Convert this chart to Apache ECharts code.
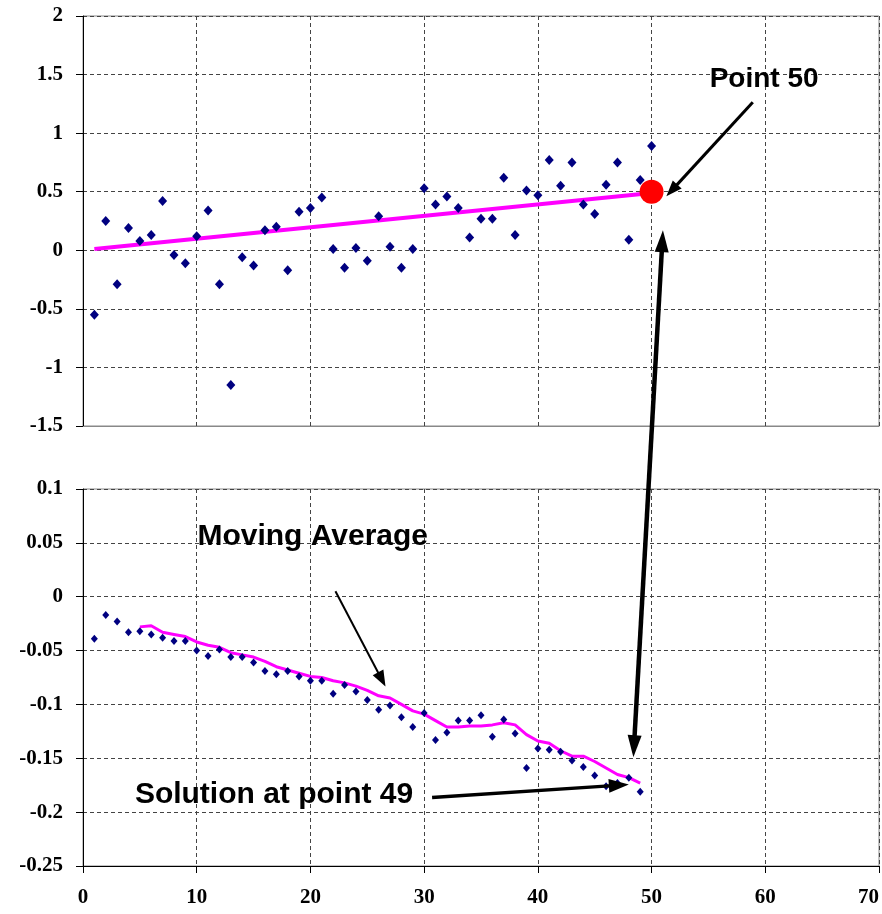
<!DOCTYPE html>
<html>
<head>
<meta charset="utf-8">
<script src="https://cdn.jsdelivr.net/npm/echarts@6/dist/echarts.min.js"></script>
<style>
  html, body { margin: 0; padding: 0; background: #fff; }
  #chart { width: 882px; height: 914px; }
</style>
</head>
<body>
<div id="chart"></div>
<script>
// x positions of the sample points
const pointIdx = [1,2,3,4,5,6,7,8,9,10,11,12,13,14,15,16,17,18,19,20,21,22,23,24,25,
  26,27,28,29,30,31,32,33,34,35,36,37,38,39,40,41,42,43,44,45,46,47,48,49,50];

// upper chart: raw samples
const rawValues = [
  -0.55, 0.25, -0.29, 0.19, 0.08, 0.13, 0.42, -0.04, -0.11, 0.12,
  0.34, -0.29, -1.15, -0.06, -0.13, 0.17, 0.20, -0.17, 0.33, 0.36,
  0.45, 0.01, -0.15, 0.02, -0.09, 0.29, 0.03, -0.15, 0.01, 0.53,
  0.39, 0.46, 0.36, 0.11, 0.27, 0.27, 0.62, 0.13, 0.51, 0.47,
  0.77, 0.55, 0.75, 0.39, 0.31, 0.56, 0.75, 0.09, 0.60, 0.89
];
// upper chart: trend line end points and the highlighted point
const trendX = [1, 50];
const trendY = [0.01, 0.49];
const point50 = [50, 0.5];

// lower chart: solutions (points 1..49)
const solValues = [
  -0.039, -0.017, -0.023, -0.033, -0.032, -0.035, -0.038, -0.041, -0.041, -0.050,
  -0.055, -0.049, -0.056, -0.056, -0.061, -0.069, -0.072, -0.069, -0.074, -0.078,
  -0.078, -0.090, -0.082, -0.088, -0.096, -0.105, -0.101, -0.112, -0.121, -0.108,
  -0.133, -0.126, -0.115, -0.115, -0.110, -0.130, -0.114, -0.127, -0.159, -0.141,
  -0.142, -0.144, -0.152, -0.158, -0.166, -0.176, -0.173, -0.168, -0.181
];
// lower chart: moving average (points 5..49)
const maStart = 5;
const maValues = [
  -0.028, -0.027, -0.033, -0.035, -0.037, -0.042, -0.045, -0.047, -0.052, -0.054,
  -0.056, -0.060, -0.065, -0.068, -0.071, -0.074, -0.075, -0.078, -0.080, -0.083,
  -0.087, -0.092, -0.094, -0.100, -0.106, -0.109, -0.115, -0.121, -0.121, -0.120,
  -0.120, -0.119, -0.117, -0.119, -0.128, -0.134, -0.136, -0.143, -0.148, -0.148,
  -0.153, -0.159, -0.165, -0.168, -0.173
];

const xTicks = { min: 0, max: 70, interval: 10 };
const topTicks = { min: -1.5, max: 2, interval: 0.5 };
const bottomTicks = { min: -0.25, max: 0.1, interval: 0.05 };

const chart = echarts.init(document.getElementById("chart"), null, { renderer: "canvas" });

const labelFont = {
  fontFamily: "Liberation Serif",
  fontWeight: "bold",
  fontSize: 21,
  color: "#000"
};
const gridDash = { color: "#444", type: [4, 3], width: 1 };

const rawData = rawValues.map((v, i) => [pointIdx[i], v]);
const solData = solValues.map((v, i) => [pointIdx[i], v]);
const maData = maValues.map((v, i) => [maStart + i, v]);
const trendData = trendX.map((x, i) => [x, trendY[i]]);

chart.setOption({
  animation: false,
  grid: [
    { left: 83, right: 3, top: 16, height: 410, show: true, borderColor: "#888", borderWidth: 1,
      containLabel: false, outerBoundsMode: "none" },
    { left: 83, right: 3, top: 489, height: 377, show: true, borderColor: "#888", borderWidth: 1,
      containLabel: false, outerBoundsMode: "none" }
  ],
  xAxis: [
    {
      gridIndex: 0, type: "value", ...xTicks,
      axisLine: { show: true, onZero: false, lineStyle: { color: "#888" } },
      axisTick: { show: false },
      axisLabel: { show: false },
      splitLine: { show: true, lineStyle: gridDash }
    },
    {
      gridIndex: 1, type: "value", ...xTicks,
      axisLine: { show: true, onZero: false, lineStyle: { color: "#000", width: 1 } },
      axisTick: { show: true, length: 7, lineStyle: { color: "#000" } },
      axisLabel: { ...labelFont, margin: 21, alignMaxLabel: "right" },
      splitLine: { show: true, lineStyle: gridDash }
    }
  ],
  yAxis: [
    {
      gridIndex: 0, type: "value", ...topTicks,
      axisLine: { show: true, onZero: false, lineStyle: { color: "#000" } },
      axisTick: { show: true, length: 7, lineStyle: { color: "#000" } },
      axisLabel: { ...labelFont, margin: 20 },
      splitLine: { show: true, lineStyle: gridDash }
    },
    {
      gridIndex: 1, type: "value", ...bottomTicks,
      axisLine: { show: true, onZero: false, lineStyle: { color: "#000" } },
      axisTick: { show: true, length: 7, lineStyle: { color: "#000" } },
      axisLabel: { ...labelFont, margin: 20 },
      splitLine: { show: true, lineStyle: gridDash }
    }
  ],
  series: [
    {
      name: "trend", type: "line", xAxisIndex: 0, yAxisIndex: 0,
      data: trendData, showSymbol: false, z: 2,
      lineStyle: { color: "#ff00ff", width: 4 }
    },
    {
      name: "raw", type: "scatter", xAxisIndex: 0, yAxisIndex: 0,
      data: rawData, symbol: "diamond", symbolSize: [9, 10], z: 3,
      itemStyle: { color: "#000080", opacity: 1 }
    },
    {
      name: "point50", type: "scatter", xAxisIndex: 0, yAxisIndex: 0,
      data: [point50], symbol: "circle", symbolSize: 24, z: 4,
      itemStyle: { color: "#ff0000", opacity: 1 }
    },
    {
      name: "solution", type: "scatter", xAxisIndex: 1, yAxisIndex: 1,
      data: solData, symbol: "diamond", symbolSize: [7, 8], z: 3,
      itemStyle: { color: "#000080", opacity: 1 }
    },
    {
      name: "moving average", type: "line", xAxisIndex: 1, yAxisIndex: 1,
      data: maData, showSymbol: false, z: 2,
      lineStyle: { color: "#ff00ff", width: 3 }
    }
  ]
});

// annotations, anchored in data coordinates of each grid
const textStyle = { fontFamily: "Liberation Sans", fontWeight: "bold", fill: "#000" };
const notes = [
  { text: "Point 50", grid: 0, at: [59.9, 1.46], size: 28 },
  { text: "Moving Average", grid: 1, at: [20.2, 0.056], size: 30 },
  { text: "Solution at point 49", grid: 1, at: [16.8, -0.1835], size: 30 }
];
const arrows = [
  { from: [0, [58.9, 1.263]], to: [0, [51.3, 0.461]], width: 3, head: [16, 12], both: false },
  { from: [1, [22.2, 0.005]], to: [1, [26.6, -0.0834]], width: 2, head: [16, 12], both: false },
  { from: [1, [30.7, -0.1865]], to: [1, [48.0, -0.1744]], width: 3.5, head: [20, 14], both: false },
  { from: [1, [48.4, -0.149]], to: [0, [51.0, 0.171]], width: 4.5, head: [22, 14], both: true }
];

function px(g, p) {
  return chart.convertToPixel({ gridIndex: g }, p);
}

function arrowHead(tip, tail, len, wid) {
  const dx = tip[0] - tail[0], dy = tip[1] - tail[1];
  const d = Math.sqrt(dx * dx + dy * dy);
  const ux = dx / d, uy = dy / d;
  const bx = tip[0] - ux * len, by = tip[1] - uy * len;
  return {
    type: "polygon", z: 10,
    shape: { points: [tip, [bx - uy * wid / 2, by + ux * wid / 2], [bx + uy * wid / 2, by - ux * wid / 2]] },
    style: { fill: "#000" }
  };
}

const graphics = [];
notes.forEach(n => {
  const p = px(n.grid, n.at);
  graphics.push({
    type: "text", z: 10, x: p[0], y: p[1],
    style: { ...textStyle, fontSize: n.size, text: n.text, align: "center", verticalAlign: "middle" }
  });
});
arrows.forEach(a => {
  const p1 = px(a.from[0], a.from[1]);
  const p2 = px(a.to[0], a.to[1]);
  const dx = p2[0] - p1[0], dy = p2[1] - p1[1];
  const d = Math.sqrt(dx * dx + dy * dy);
  const ux = dx / d, uy = dy / d;
  const s = a.both ? [p1[0] + ux * a.head[0] * 0.8, p1[1] + uy * a.head[0] * 0.8] : p1;
  const e = [p2[0] - ux * a.head[0] * 0.8, p2[1] - uy * a.head[0] * 0.8];
  graphics.push({
    type: "line", z: 9,
    shape: { x1: s[0], y1: s[1], x2: e[0], y2: e[1] },
    style: { stroke: "#000", lineWidth: a.width }
  });
  graphics.push(arrowHead(p2, p1, a.head[0], a.head[1]));
  if (a.both) graphics.push(arrowHead(p1, p2, a.head[0], a.head[1]));
});

chart.setOption({ graphic: graphics });
</script>
</body>
</html>
